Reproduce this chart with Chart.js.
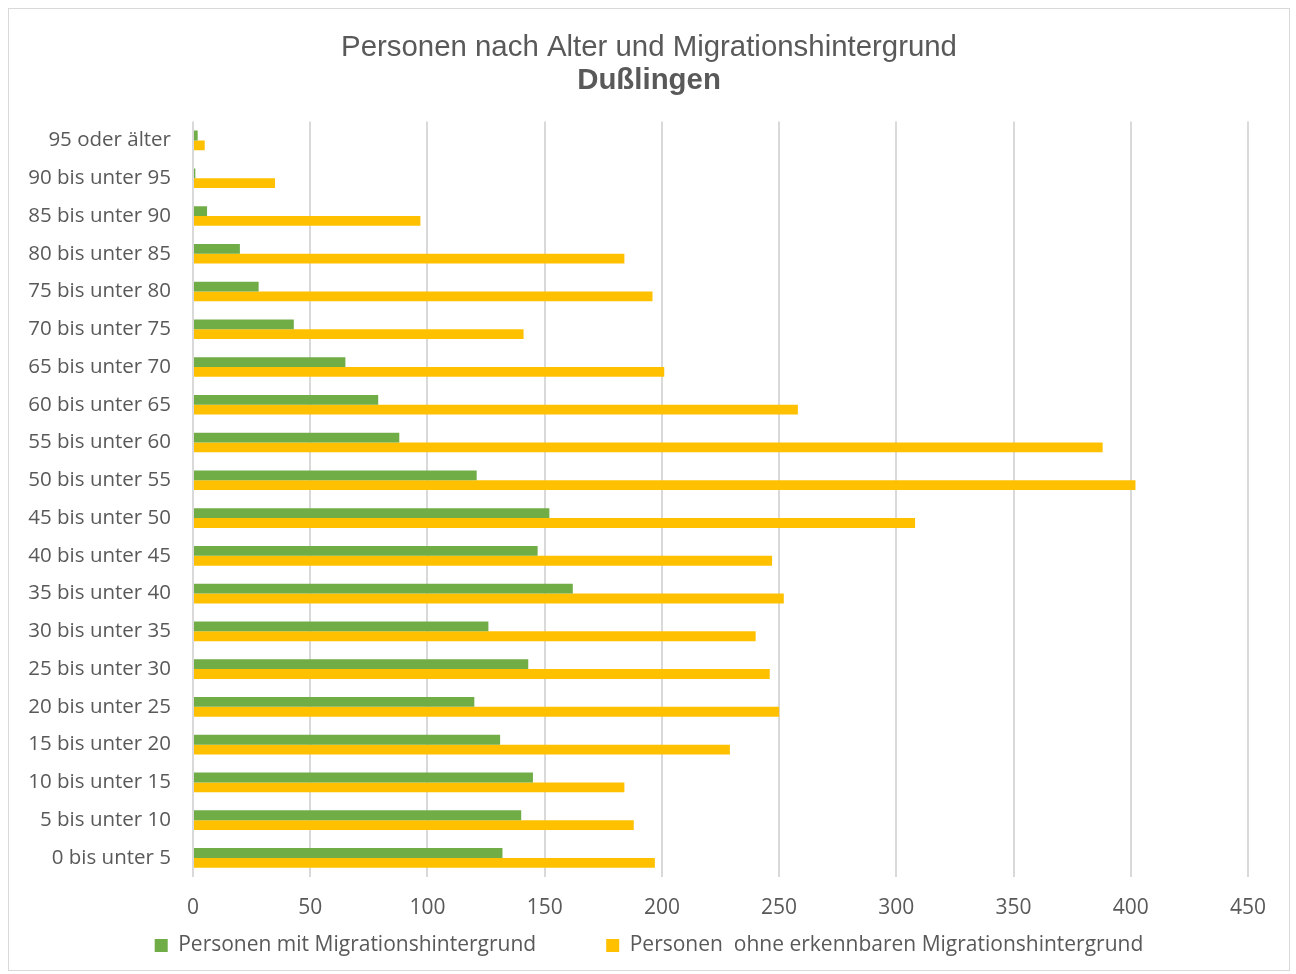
<!DOCTYPE html>
<html>
<head>
<meta charset="utf-8">
<script src="https://cdn.jsdelivr.net/npm/chart.js@4"></script>
<style>
  body { margin: 0; background: #fff; }
  #box { position: absolute; left: 8px; top: 8px; width: 1282px; height: 963px; border: 1px solid #d9d9d9; box-sizing: border-box; }
  canvas { display: block; }
</style>
</head>
<body>
<div id="box"><canvas id="chart" width="1280" height="961"></canvas></div>
<script>
// Altersgruppen, von oben nach unten
const ageGroups = ['95 oder älter','90 bis unter 95','85 bis unter 90','80 bis unter 85','75 bis unter 80',
  '70 bis unter 75','65 bis unter 70','60 bis unter 65','55 bis unter 60','50 bis unter 55',
  '45 bis unter 50','40 bis unter 45','35 bis unter 40','30 bis unter 35','25 bis unter 30',
  '20 bis unter 25','15 bis unter 20','10 bis unter 15','5 bis unter 10','0 bis unter 5'];
const mitMigration = [2,1,6,20,28,43,65,79,88,121,152,147,162,126,143,120,131,145,140,132];
const ohneMigration = [5,35,97,184,196,141,201,258,388,402,308,247,252,240,246,250,229,184,188,197];
const xTicks = [0,50,100,150,200,250,300,350,400,450];

const grey = '#595959';
const labelFont = "'Open Sans', 'Noto Sans', sans-serif";
const titleFont = "'Liberation Sans', Arial, sans-serif";

new Chart(document.getElementById('chart').getContext('2d'), {
  type: 'bar',
  data: {
    labels: ageGroups,
    datasets: [
      {label: 'Personen mit Migrationshintergrund', data: mitMigration, backgroundColor: '#70ad47'},
      {label: 'Personen  ohne erkennbaren Migrationshintergrund', data: ohneMigration, backgroundColor: '#ffc000'}
    ]
  },
  options: {
    indexAxis: 'y',
    responsive: false,
    animation: false,
    datasets: {bar: {categoryPercentage: 0.52, barPercentage: 1}},
    layout: {padding: {left: 0, right: 0, top: 8, bottom: 4}},
    plugins: {
      title: {
        display: true,
        text: 'Personen nach Alter und Migrationshintergrund',
        color: grey,
        font: {family: titleFont, size: 29.4, weight: 'normal'},
        padding: {top: 13, bottom: 0}
      },
      subtitle: {
        display: true,
        text: 'Dußlingen',
        color: grey,
        font: {family: titleFont, size: 29.4, weight: 'bold'},
        padding: {top: -2, bottom: 23}
      },
      legend: {
        position: 'bottom',
        labels: {
          color: grey,
          font: {family: labelFont, size: 21},
          boxWidth: 13, boxHeight: 13, padding: 10,
          // extra room after the first entry, like the original legend spacing
          generateLabels: chart => Chart.defaults.plugins.legend.labels.generateLabels(chart)
            .map((it, i) => i === 0 ? Object.assign(it, {text: it.text + '           '}) : it)
        }
      },
      tooltip: {enabled: false}
    },
    scales: {
      x: {
        min: 0, max: 450,
        afterBuildTicks: s => { s.ticks = xTicks.map(v => ({value: v})); },
        afterFit: s => { s.height -= 15; },
        grid: {color: '#d9d9d9', lineWidth: 2, drawTicks: false},
        border: {display: false},
        ticks: {color: grey, font: {family: labelFont, size: 21}, padding: 19}
      },
      y: {
        afterFit: s => { s.width = 184; },
        grid: {display: false},
        border: {display: false},
        ticks: {color: grey, font: {family: labelFont, size: 20.5}, padding: 14}
      },
      // empty spacer on the right so title and legend stay centred on the frame
      yRight: {
        type: 'category',
        position: 'right',
        afterFit: s => { s.width = 41; },
        grid: {display: false},
        border: {display: false},
        ticks: {display: false}
      }
    }
  }
});
</script>
</body>
</html>
